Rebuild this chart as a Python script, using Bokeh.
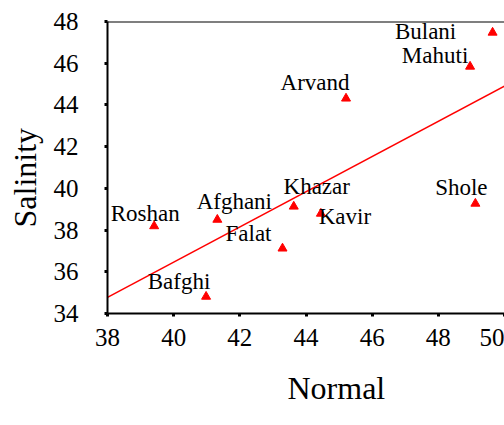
from bokeh.plotting import figure
from bokeh.models import Range1d, LabelSet, Span, ColumnDataSource, Title
from bokeh.embed import file_html
from bokeh.resources import INLINE

# ---- data ----
sites = ["Bulani", "Mahuti", "Arvand", "Khazar", "Kavir", "Shole",
         "Afghani", "Roshan", "Falat", "Bafghi"]
normal = [49.64, 48.96, 45.21, 43.63, 44.45, 49.12, 41.32, 39.41, 43.29, 40.98]
salinity = [47.47, 45.84, 44.31, 39.13, 38.79, 39.27, 38.50, 38.19, 37.12, 34.81]
fit_x = [38, 50]
fit_y = [34.77, 44.90]
x_ticks = [38, 40, 42, 44, 46, 48, 50]
y_ticks = [34, 36, 38, 40, 42, 44, 46, 48]

# ---- label placement (screen pixels, right / up) ----
label_dx = [-67, -35, -31, 23, 24, -14, 17, -9, -34, -27]
label_dy = [1, 11, 16, 20, -3, 16, 18, 13, 15, 15]

FONT = "Liberation Serif"

src = ColumnDataSource(dict(x=normal, y=salinity, name=sites, dx=label_dx, dy=label_dy))

p = figure(width=504, height=425,
           x_range=Range1d(38, 50), y_range=Range1d(34, 48),
           output_backend="svg", toolbar_location=None,
           min_border_left=107, min_border_right=0,
           min_border_top=21, min_border_bottom=112)

p.outline_line_color = None
p.xgrid.visible = False
p.ygrid.visible = False
p.background_fill_color = "white"
p.border_fill_color = "white"

for ax in (p.xaxis[0], p.yaxis[0]):
    ax.axis_line_width = 2
    ax.axis_line_color = "black"
    ax.major_tick_line_width = 3
    ax.major_tick_out = 3
    ax.major_tick_in = 0
    ax.minor_tick_line_color = None
    ax.major_label_text_font = FONT
    ax.major_label_text_font_size = "25px"
    ax.major_label_text_color = "black"

p.xaxis.ticker = x_ticks
p.yaxis.ticker = y_ticks
p.xaxis.major_label_standoff = 12
p.yaxis.major_label_standoff = 26

p.add_layout(Span(location=48, dimension="width", line_color="black", line_width=2))

p.line(fit_x, fit_y, line_color="red", line_width=1.5)
p.scatter("x", "y", source=src, marker="triangle", size=9,
          fill_color="red", line_color="red")

labels = LabelSet(x="x", y="y", text="name", source=src,
                  x_offset="dx", y_offset="dy",
                  text_align="center", text_baseline="middle",
                  text_font=FONT, text_font_size="23px", text_color="black")
p.add_layout(labels)

p.add_layout(Title(text="Normal", align="left", offset=180, standoff=38,
                   text_font=FONT, text_font_size="32px",
                   text_font_style="normal", text_color="black"), "below")
p.add_layout(Title(text="Salinity", align="left", offset=86, standoff=12,
                   vertical_align="top",
                   text_font=FONT, text_font_size="32px",
                   text_font_style="normal", text_color="black"), "left")

open("out.html", "w").write(file_html(p, INLINE))
